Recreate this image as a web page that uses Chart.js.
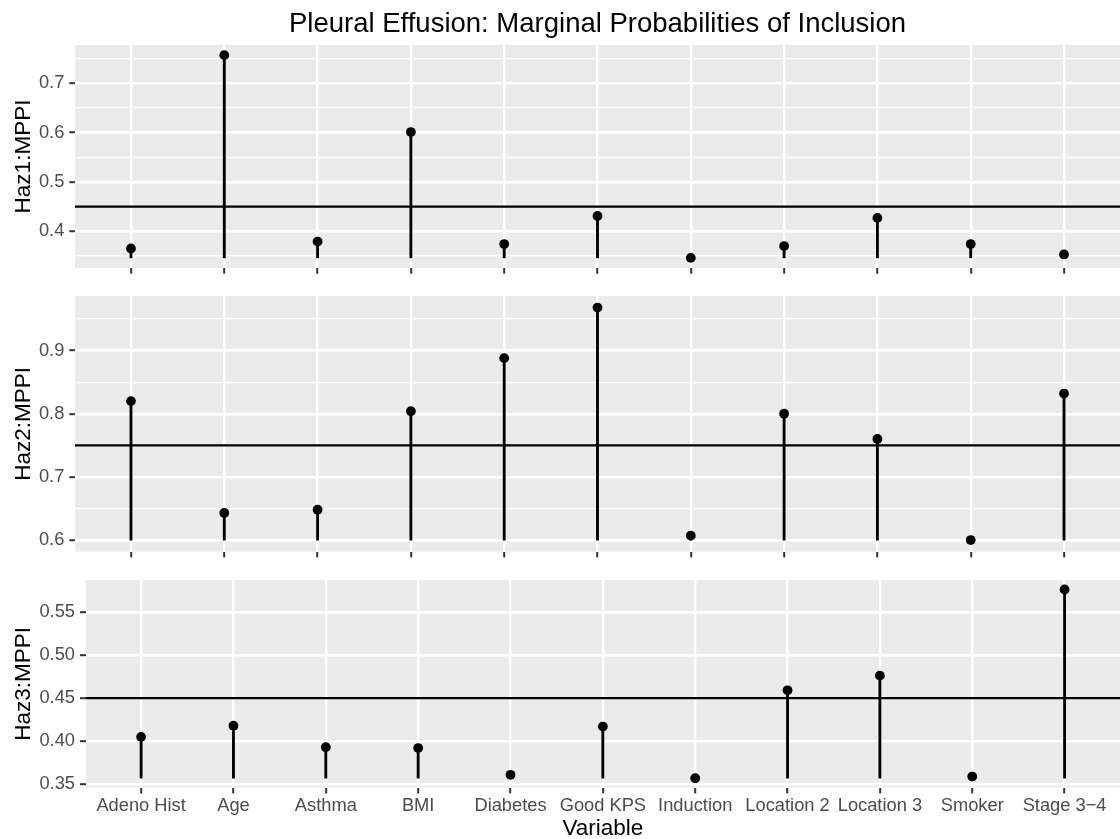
<!DOCTYPE html>
<html>
<head>
<meta charset="utf-8">
<title>Pleural Effusion: Marginal Probabilities of Inclusion</title>
<script src="https://cdn.jsdelivr.net/npm/chart.js"></script>
<style>
  body { margin: 0; background: #fff; }
  #wrap { position: relative; width: 1120px; height: 839px; overflow: hidden; }
  .panel { position: absolute; left: 0; width: 1120px; }
</style>
</head>
<body>
<div id="wrap">
  <div class="panel" style="top:0px;height:300px"><canvas id="haz1"></canvas></div>
  <div class="panel" style="top:270px;height:305px"><canvas id="haz2"></canvas></div>
  <div class="panel" style="top:555px;height:284px"><canvas id="haz3"></canvas></div>
</div>
<script>
// data
var variables = ['Adeno Hist', 'Age', 'Asthma', 'BMI', 'Diabetes', 'Good KPS', 'Induction',
                 'Location 2', 'Location 3', 'Smoker', 'Stage 3\u22124'];
var haz1 = [0.365, 0.757, 0.379, 0.601, 0.374, 0.431, 0.346, 0.370, 0.427, 0.374, 0.353];
var haz2 = [0.820, 0.643, 0.648, 0.804, 0.888, 0.968, 0.607, 0.800, 0.760, 0.600, 0.832];
var haz3 = [0.405, 0.418, 0.393, 0.392, 0.361, 0.417, 0.357, 0.459, 0.476, 0.359, 0.576];
var cutoffs = [0.45, 0.75, 0.45];
var yTitles = ['Haz1:MPPI', 'Haz2:MPPI', 'Haz3:MPPI'];
var yBreaks = [0.1, 0.1, 0.05];
var yDecimals = [1, 1, 2];

Chart.defaults.font.family = "'Liberation Sans', Arial, Helvetica, sans-serif";
Chart.defaults.color = '#4D4D4D';

var panelBg = {
    id: 'panelBg',
    beforeDraw: function(chart) {
        var a = chart.chartArea;
        var ctx = chart.ctx;
        ctx.save();
        ctx.fillStyle = '#EBEBEB';
        ctx.fillRect(a.left, a.top, a.right - a.left, a.bottom - a.top);
        ctx.restore();
    }
};

function drawPanel(canvasId, values, cutoff, yTitle, brk, decimals, box) {
    var xMin = -0.6, xMax = variables.length - 1 + 0.6;
    var lo = Math.min.apply(null, values.concat([cutoff]));
    var hi = Math.max.apply(null, values.concat([cutoff]));
    var pad = (hi - lo) * 0.05;
    var base = Math.min.apply(null, values);

    return new Chart(document.getElementById(canvasId), {
        type: 'bar',
        data: {
            datasets: [{
                type: 'bar',
                data: values.map(function(v, i) { return {x: i, y: [base, v]}; }),
                backgroundColor: '#000',
                borderWidth: 0,
                barThickness: 2.2,
                grouped: false,
                order: 3
            }, {
                type: 'scatter',
                data: values.map(function(v, i) { return {x: i, y: v}; }),
                backgroundColor: '#000',
                borderWidth: 0,
                pointRadius: 4.9,
                order: 2
            }, {
                type: 'line',
                data: [{x: xMin, y: cutoff}, {x: xMax, y: cutoff}],
                borderColor: '#000',
                borderWidth: 2.2,
                pointRadius: 0,
                order: 1
            }]
        },
        options: {
            responsive: true,
            maintainAspectRatio: false,
            animation: false,
            events: [],
            layout: { autoPadding: false, padding: { top: box.padTop, left: 0, right: 0, bottom: 0 } },
            plugins: {
                legend: { display: false },
                tooltip: { enabled: false },
                title: {
                    display: !!box.title,
                    text: box.title || '',
                    fullSize: false,
                    color: '#000',
                    font: { size: 27.5, weight: 'normal', lineHeight: 1 },
                    padding: { top: 10.5, bottom: 7 }
                }
            },
            scales: {
                x: {
                    type: 'linear',
                    min: xMin,
                    max: xMax,
                    offset: false,
                    afterBuildTicks: function(scale) {
                        scale.ticks = variables.map(function(_, i) { return {value: i}; });
                    },
                    afterFit: function(scale) { scale.height = box.xHeight; },
                    grid: {
                        offset: false,
                        color: '#FFFFFF',
                        lineWidth: 2.4,
                        tickColor: '#333333',
                        tickWidth: 2,
                        tickLength: 5.7,
                        drawTicks: true
                    },
                    border: { display: false },
                    ticks: {
                        display: box.showLabels,
                        autoSkip: false,
                        maxRotation: 0,
                        padding: 2,
                        color: '#4D4D4D',
                        font: { size: 18.3 },
                        callback: function(value) { return variables[value]; }
                    },
                    title: {
                        display: box.showLabels,
                        text: 'Variable',
                        color: '#000',
                        font: { size: 22.5, lineHeight: 0.9 },
                        padding: { top: 0, bottom: 0 }
                    }
                },
                y: {
                    type: 'linear',
                    min: lo - pad,
                    max: hi + pad,
                    afterBuildTicks: function(scale) {
                        var half = brk / 2;
                        var ticks = [];
                        var k0 = Math.ceil(scale.min / half - 1e-9);
                        var k1 = Math.floor(scale.max / half + 1e-9);
                        for (var k = k0; k <= k1; k++) {
                            ticks.push({value: +(k * half).toFixed(6), isMajor: k % 2 === 0});
                        }
                        scale.ticks = ticks;
                    },
                    afterFit: function(scale) { scale.width = box.yWidth; },
                    grid: {
                        color: '#FFFFFF',
                        lineWidth: function(c) { return c.tick && c.tick.isMajor ? 2.4 : 1.2; },
                        tickColor: function(c) { return c.tick && c.tick.isMajor ? '#333333' : 'rgba(0,0,0,0)'; },
                        tickWidth: 2,
                        tickLength: 5.7
                    },
                    border: { display: false },
                    ticks: {
                        padding: 5,
                        color: '#4D4D4D',
                        font: { size: 18.3 },
                        callback: function(value, index, ticks) {
                            return ticks[index].isMajor ? value.toFixed(decimals) : '';
                        }
                    },
                    title: {
                        display: true,
                        text: yTitle,
                        color: '#000',
                        font: { size: 22.5, lineHeight: 1 },
                        padding: { top: 12.5, bottom: 0 }
                    }
                }
            }
        },
        plugins: [panelBg]
    });
}

drawPanel('haz1', haz1, cutoffs[0], yTitles[0], yBreaks[0], yDecimals[0],
    {padTop: 0, xHeight: 32, yWidth: 75, showLabels: false,
     title: 'Pleural Effusion: Marginal Probabilities of Inclusion'});
drawPanel('haz2', haz2, cutoffs[1], yTitles[1], yBreaks[1], yDecimals[1],
    {padTop: 26, xHeight: 23.3, yWidth: 75, showLabels: false});
drawPanel('haz3', haz3, cutoffs[2], yTitles[2], yBreaks[2], yDecimals[2],
    {padTop: 25, xHeight: 51.3, yWidth: 85.7, showLabels: true});
</script>
</body>
</html>
